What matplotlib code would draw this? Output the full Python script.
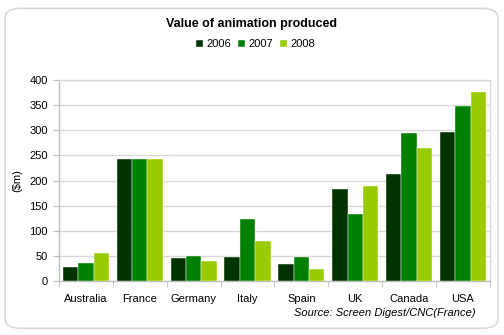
import matplotlib
matplotlib.use("Agg")
import matplotlib.pyplot as plt
import numpy as np
from matplotlib.patches import FancyBboxPatch

plt.rcParams['font.family'] = ['Liberation Sans', 'DejaVu Sans']

countries = ["Australia", "France", "Germany", "Italy", "Spain", "UK", "Canada", "USA"]
years = ["2006", "2007", "2008"]
v2006 = [28, 242, 46, 48, 33, 184, 213, 296]
v2007 = [36, 242, 49, 123, 48, 134, 294, 349]
v2008 = [56, 242, 40, 80, 25, 190, 265, 377]
colors = ["#003300", "#008000", "#99cc00"]

fig = plt.figure(figsize=(5.04, 3.35), dpi=100)
fig.patch.set_facecolor("white")

# rounded outer frame
frame = FancyBboxPatch((0.01, 0.02), 0.978, 0.955,
                       boxstyle="round,pad=0,rounding_size=0.03",
                       transform=fig.transFigure, facecolor="none",
                       edgecolor="#d9d9d9", linewidth=1.2, zorder=-1)
fig.patches.append(frame)

ax = fig.add_axes([0.117, 0.161, 0.855, 0.600])
ax.set_facecolor("none")

x = np.arange(len(countries))
w = 0.285
for i, (vals, yr, c) in enumerate(zip([v2006, v2007, v2008], years, colors)):
    ax.bar(x + (i - 1) * w, vals, width=w, color=c, label=yr,
           edgecolor="white", linewidth=0.3, zorder=3)

ax.set_xlim(-0.5, len(countries) - 0.5)
ax.set_ylim(0, 400)
ax.set_yticks(range(0, 401, 50))
ax.yaxis.grid(True, color="#d9d9d9", linewidth=1.0, zorder=0)
ax.set_axisbelow(True)

ax.set_xticks(x)
ax.set_xticklabels(countries)
ax.set_xticks(np.arange(-0.5, len(countries), 1), minor=True)
ax.tick_params(axis="x", which="major", length=0, pad=9, labelsize=8)
ax.tick_params(axis="x", which="minor", length=4, color="#bfbfbf")
ax.tick_params(axis="y", length=4, color="#bfbfbf", labelsize=8, pad=4)

for s in ["left", "bottom", "right", "top"]:
    ax.spines[s].set_color("#d9d9d9")
    ax.spines[s].set_linewidth(1.0)
ax.spines["left"].set_color("#bfbfbf")
ax.spines["bottom"].set_color("#bfbfbf")

ax.set_ylabel("($m)", fontsize=8)
ax.yaxis.set_label_coords(-0.086, 0.5)

fig.text(0.5, 0.928, "Value of animation produced", ha="center", va="center",
         fontsize=9, fontweight="bold")
leg = fig.legend(loc="center", bbox_to_anchor=(0.507, 0.868), ncol=3, frameon=False,
                 fontsize=8, handlelength=0.65, handleheight=0.65,
                 handletextpad=0.3, columnspacing=0.6)

fig.text(0.943, 0.065, "Source: Screen Digest/CNC(France)", ha="right", va="center",
         fontsize=8, style="italic")

fig.savefig("out.png", dpi=100)
